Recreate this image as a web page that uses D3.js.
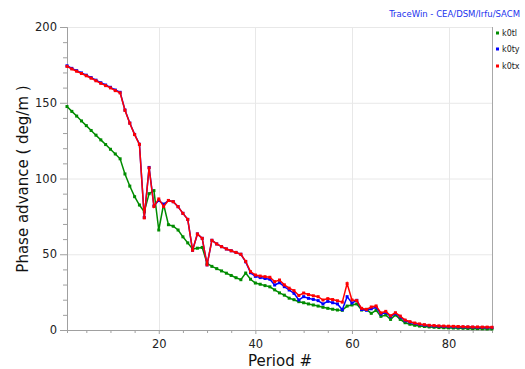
<!DOCTYPE html>
<html><head><meta charset="utf-8">
<script src="https://cdn.jsdelivr.net/npm/d3@7/dist/d3.min.js"></script>
<style>body{margin:0;background:#fff}svg{display:block;font-family:"DejaVu Sans",sans-serif}</style>
</head><body>
<svg id="c" width="525" height="369"></svg>
<script>
const periods = d3.range(1, 90);
const k0tl = [147.5,144.3,141.2,138,134.9,131.7,128.6,125.5,122.4,119.3,116.2,113,
  103,95,88,82.5,78,90,92,66,83,69.5,68.5,66,61.5,57.5,53.5,54,54.5,44,
  42,40.5,39,37.5,36,34.5,33.2,37.6,33.5,31,30.2,29.3,28.5,26.5,24.5,23,21,20,18.7,18,
  17.2,16.5,15.8,15,14.3,13.7,13.2,13,15.8,16.5,17.2,13.2,13.6,11,13,9,9.9,7,9.9,7,
  4.8,3.8,3.1,2.6,2.3,2.0,1.8,1.6,1.5,1.4,1.3,1.2,1.1,1.0,0.9,0.9,0.8,0.7,0.7];
const k0ty = [174.4,172.7,171.2,169.7,168.2,166.6,164.9,163.2,161.7,160.2,158.4,156.9,
  145.2,136.6,129.1,122.6,74.3,107.3,82,85.5,83,85.5,84.7,81.4,77,73,52.6,63.4,60.5,43,
  59.2,56.8,55,53.5,52.3,51.2,50,45,37.8,35.4,34.6,34,33.5,29.7,31.2,28.6,26.4,24.2,19.8,22,
  20.9,20.2,19.4,17.2,18.9,18,17.2,13.4,22,17.8,19.6,13.5,13,14,15,10.5,11.6,8.8,10.8,8.6,
  6.1,5.1,4.3,3.7,3.2,2.8,2.6,2.4,2.3,2.2,2.1,2.0,1.9,1.9,1.8,1.7,1.7,1.6,1.6];
const k0tx = [174,172.3,170.8,169.3,167.8,166.2,164.5,162.8,161.3,159.8,158,156.5,
  145,136.5,129,122.5,74,107,81.5,86.5,81.5,85.5,84.7,81.4,77,73,52.6,63.4,60.5,43,
  59.2,56.8,55,53.5,52.3,51.2,50,45.3,38.5,36.3,35.6,35.2,34.8,31.9,33,29.8,27.6,26,22.8,24.4,
  23.4,22.6,22,19.8,20.7,20.1,19.3,18.4,30.6,19.8,19.4,14.3,13.6,15.2,15.9,11.3,12.3,9.4,11.4,9.2,
  6.6,5.5,4.6,4.0,3.5,3.1,2.9,2.7,2.6,2.5,2.4,2.3,2.2,2.1,2.0,2.0,1.9,1.9,1.8];
const seriesNames = ["k0tl","k0ty","k0tx"];
const seriesColors = ["#008c00","#0000ff","#ff0000"];
const yMajor = [0,50,100,150,200];
const xMajor = [20,40,60,80];
const title = "TraceWin - CEA/DSM/Irfu/SACM";
const xTitle = "Period #";
const yTitle = "Phase advance ( deg/m )";

const L=67,R=492,T=27,B=330;
const svg = d3.select("#c");
const x = d3.scaleLinear().domain([1,89]).range([L,R]);
const y = d3.scaleLinear().domain([0,200]).range([B,T]);

// grid
const g = svg.append("g");
g.selectAll(".gy").data(yMajor.filter(v=>v>0)).join("line")
  .attr("x1",L).attr("x2",R).attr("y1",d=>y(d)+0.5).attr("y2",d=>y(d)+0.5)
  .attr("stroke","#e8e8e8").attr("stroke-width",1);
g.selectAll(".gx").data(xMajor).join("line")
  .attr("x1",d=>Math.round(x(d))+0.5).attr("x2",d=>Math.round(x(d))+0.5).attr("y1",T).attr("y2",B)
  .attr("stroke","#e8e8e8").attr("stroke-width",1);
// right frame
svg.append("line").attr("x1",R+0.5).attr("x2",R+0.5).attr("y1",T).attr("y2",B)
  .attr("stroke","#a8a8a8");

// axes
const yMinor = d3.range(10,200,10).filter(v=>v%50!==0);
const xMinor = d3.range(5,90,5).filter(v=>v%20!==0);
function styleAxis(sel){
  sel.selectAll("path,line").attr("stroke","#a0a0a0");
  sel.selectAll("text").attr("fill","#222").style("font-size","11.5px").style("font-family","DejaVu Sans");
}
svg.append("g").attr("transform",`translate(${L},0)`)
  .call(d3.axisLeft(y).tickValues(yMinor).tickSize(4).tickFormat("")).call(styleAxis);
svg.append("g").attr("transform",`translate(${L},0)`)
  .call(d3.axisLeft(y).tickValues(yMajor).tickSize(7).tickPadding(3).tickSizeOuter(0)).call(styleAxis);
svg.append("g").attr("transform",`translate(0,${B})`)
  .call(d3.axisBottom(x).tickValues(xMinor).tickSize(3).tickFormat("")).call(styleAxis);
svg.append("g").attr("transform",`translate(0,${B})`)
  .call(d3.axisBottom(x).tickValues(xMajor).tickSize(4).tickPadding(6).tickSizeOuter(0)).call(styleAxis);

// series
const allSeries = [k0tl,k0ty,k0tx];
const line = d3.line().x((d,i)=>x(periods[i])).y(d=>y(d));
allSeries.forEach((vals,si)=>{
  svg.append("path").datum(vals).attr("d",line).attr("fill","none")
    .attr("stroke",seriesColors[si]).attr("stroke-width",1.5);
  svg.append("g").selectAll("rect").data(vals).join("rect")
    .attr("x",(d,i)=>x(periods[i])-1.5).attr("y",d=>y(d)-1.5)
    .attr("width",3).attr("height",3).attr("fill",seriesColors[si]);
});

// titles
svg.append("text").attr("x",280).attr("y",366).attr("text-anchor","middle")
  .style("font-size","15px").attr("fill","#111").text(xTitle);
svg.append("text").attr("transform","translate(28,179) rotate(-90)").attr("text-anchor","middle")
  .style("font-size","15px").attr("fill","#111").text(yTitle);
svg.append("text").attr("x",520).attr("y",17).attr("text-anchor","end")
  .style("font-size","8.5px").attr("fill","#2233ee").text(title);

// legend
const legY = [33,49,66];
seriesNames.forEach((n,i)=>{
  svg.append("rect").attr("x",496).attr("y",legY[i]-1.5).attr("width",3).attr("height",3).attr("fill",seriesColors[i]);
  svg.append("text").attr("x",502).attr("y",legY[i]+3).style("font-size","8px").attr("fill","#222").text(n);
});
</script>
</body></html>
